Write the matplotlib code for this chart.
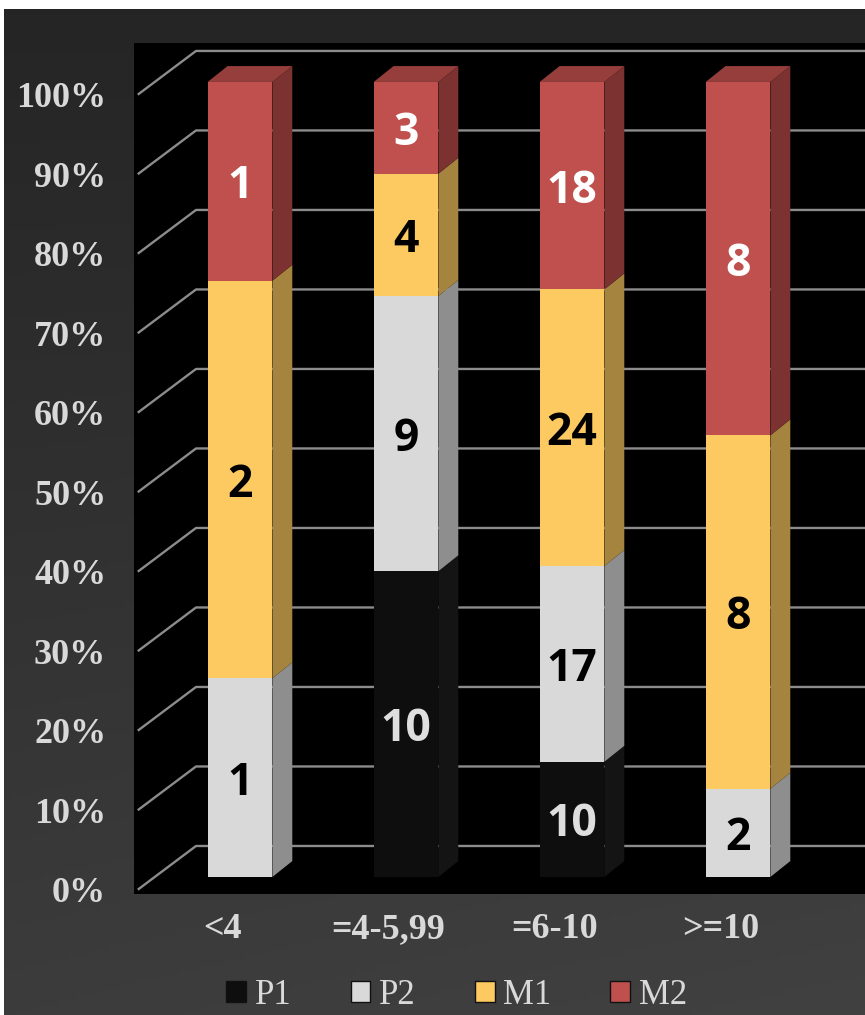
import numpy as np
import matplotlib.pyplot as plt
from matplotlib.patches import Patch

# dados
categories = ["<4", "=4-5,99", "=6-10", ">=10"]
series = ["P1", "P2", "M1", "M2"]
p1 = [0, 10, 10, 0]
p2 = [1, 9, 17, 2]
m1 = [2, 4, 24, 8]
m2 = [1, 3, 18, 8]
y_ticks = [0, 10, 20, 30, 40, 50, 60, 70, 80, 90, 100]

counts = np.array([p1, p2, m1, m2], dtype=float)
pct = counts / counts.sum(axis=0) * 100

front = ["#0e0e0e", "#d9d9d9", "#fdc961", "#c0504d"]
side = ["#141414", "#8e8e8e", "#a5843f", "#7b3230"]
top = ["#1c1c1c", "#b3b3b3", "#d2a84f", "#953e3b"]
lab_col = ["#dedede", "#000000", "#000000", "#ffffff"]

W, H = 865, 1015
fig = plt.figure(figsize=(W / 100, H / 100), dpi=100, facecolor="white")

# fundo em gradiente
bg = fig.add_axes([4 / W, 0, 1 - 4 / W, 1 - 9 / H])
yy, xx = np.mgrid[0:1:200j, 0:1:200j]
g = 0.145 + 0.09 * yy + 0.02 * xx * yy
bg.imshow(np.dstack([g, g, g]), origin="upper", aspect="auto", extent=[0, 1, 1, 0])
bg.set_axis_off()

ax = fig.add_axes([134 / W, 1 - 894 / H, 1 - 134 / W, (894 - 43) / H])
ax.set_facecolor("black")
ax.set_xlim(-0.6386, 3.765)
ax.set_ylim(-2.14, 104.9)
for s in ax.spines.values():
    s.set_visible(False)

# linhas de grelha (parede de fundo em perspetiva)
xf, xb = -0.616, -0.265
for t in y_ticks:
    ax.plot([xf, xb, 3.8], [t - 1.6, t + 3.9, t + 3.9], color="#8c8c8c", lw=1.7,
            zorder=1, solid_capstyle="butt")

# barras 3D
w = 0.39
ddx, ddy = 0.12, 2.0
x = np.arange(len(categories))
for i in x:
    bottom = 0
    last = max(k for k in range(4) if pct[k, i] > 0)
    for k in range(4):
        h = pct[k, i]
        if h <= 0:
            continue
        zb = 2 + k * 0.1
        r = i + w / 2
        ax.fill([r, r + ddx, r + ddx, r], [bottom, bottom + ddy, bottom + h + ddy, bottom + h],
                color=side[k], lw=0, zorder=zb)
        if k == last:
            l = i - w / 2
            ax.fill([l, r, r + ddx, l + ddx], [bottom + h, bottom + h, bottom + h + ddy, bottom + h + ddy],
                    color=top[k], lw=0, zorder=zb)
        ax.bar(i, h, width=w, bottom=bottom, color=front[k], lw=0, zorder=zb + 0.05)
        ax.text(i, bottom + h / 2 - 0.7, f"{int(counts[k, i])}", ha="center", va="center",
                fontsize=32, fontweight="bold", family="Open Sans", color=lab_col[k],
                zorder=5)
        bottom += h

# eixos
ax.set_yticks([t - 1.6 for t in y_ticks])
ax.set_yticklabels([f"{t}%" for t in y_ticks])
ax.set_xticks(x - 0.105)
ax.set_xticklabels(categories)
ax.tick_params(axis="y", length=0, pad=20, labelsize=26, labelcolor="#d9d9d9")
ax.tick_params(axis="x", length=0, pad=14, labelsize=26, labelcolor="#d9d9d9")
for lab in ax.get_xticklabels() + ax.get_yticklabels():
    lab.set_family("Liberation Serif")
    lab.set_fontweight("bold")

# legenda
handles = [Patch(facecolor=front[k], edgecolor="#111111", lw=1) for k in range(4)]
leg = fig.legend(handles, series, ncol=4, loc="center", bbox_to_anchor=(0.528, 1 - 995 / H),
                 frameon=False, handlelength=0.57, handleheight=0.57, handletextpad=0.25,
                 columnspacing=1.7, prop={"family": "Liberation Serif", "size": 25})
for t in leg.get_texts():
    t.set_color("#d9d9d9")

plt.savefig("out.png", dpi=100, facecolor="white")
